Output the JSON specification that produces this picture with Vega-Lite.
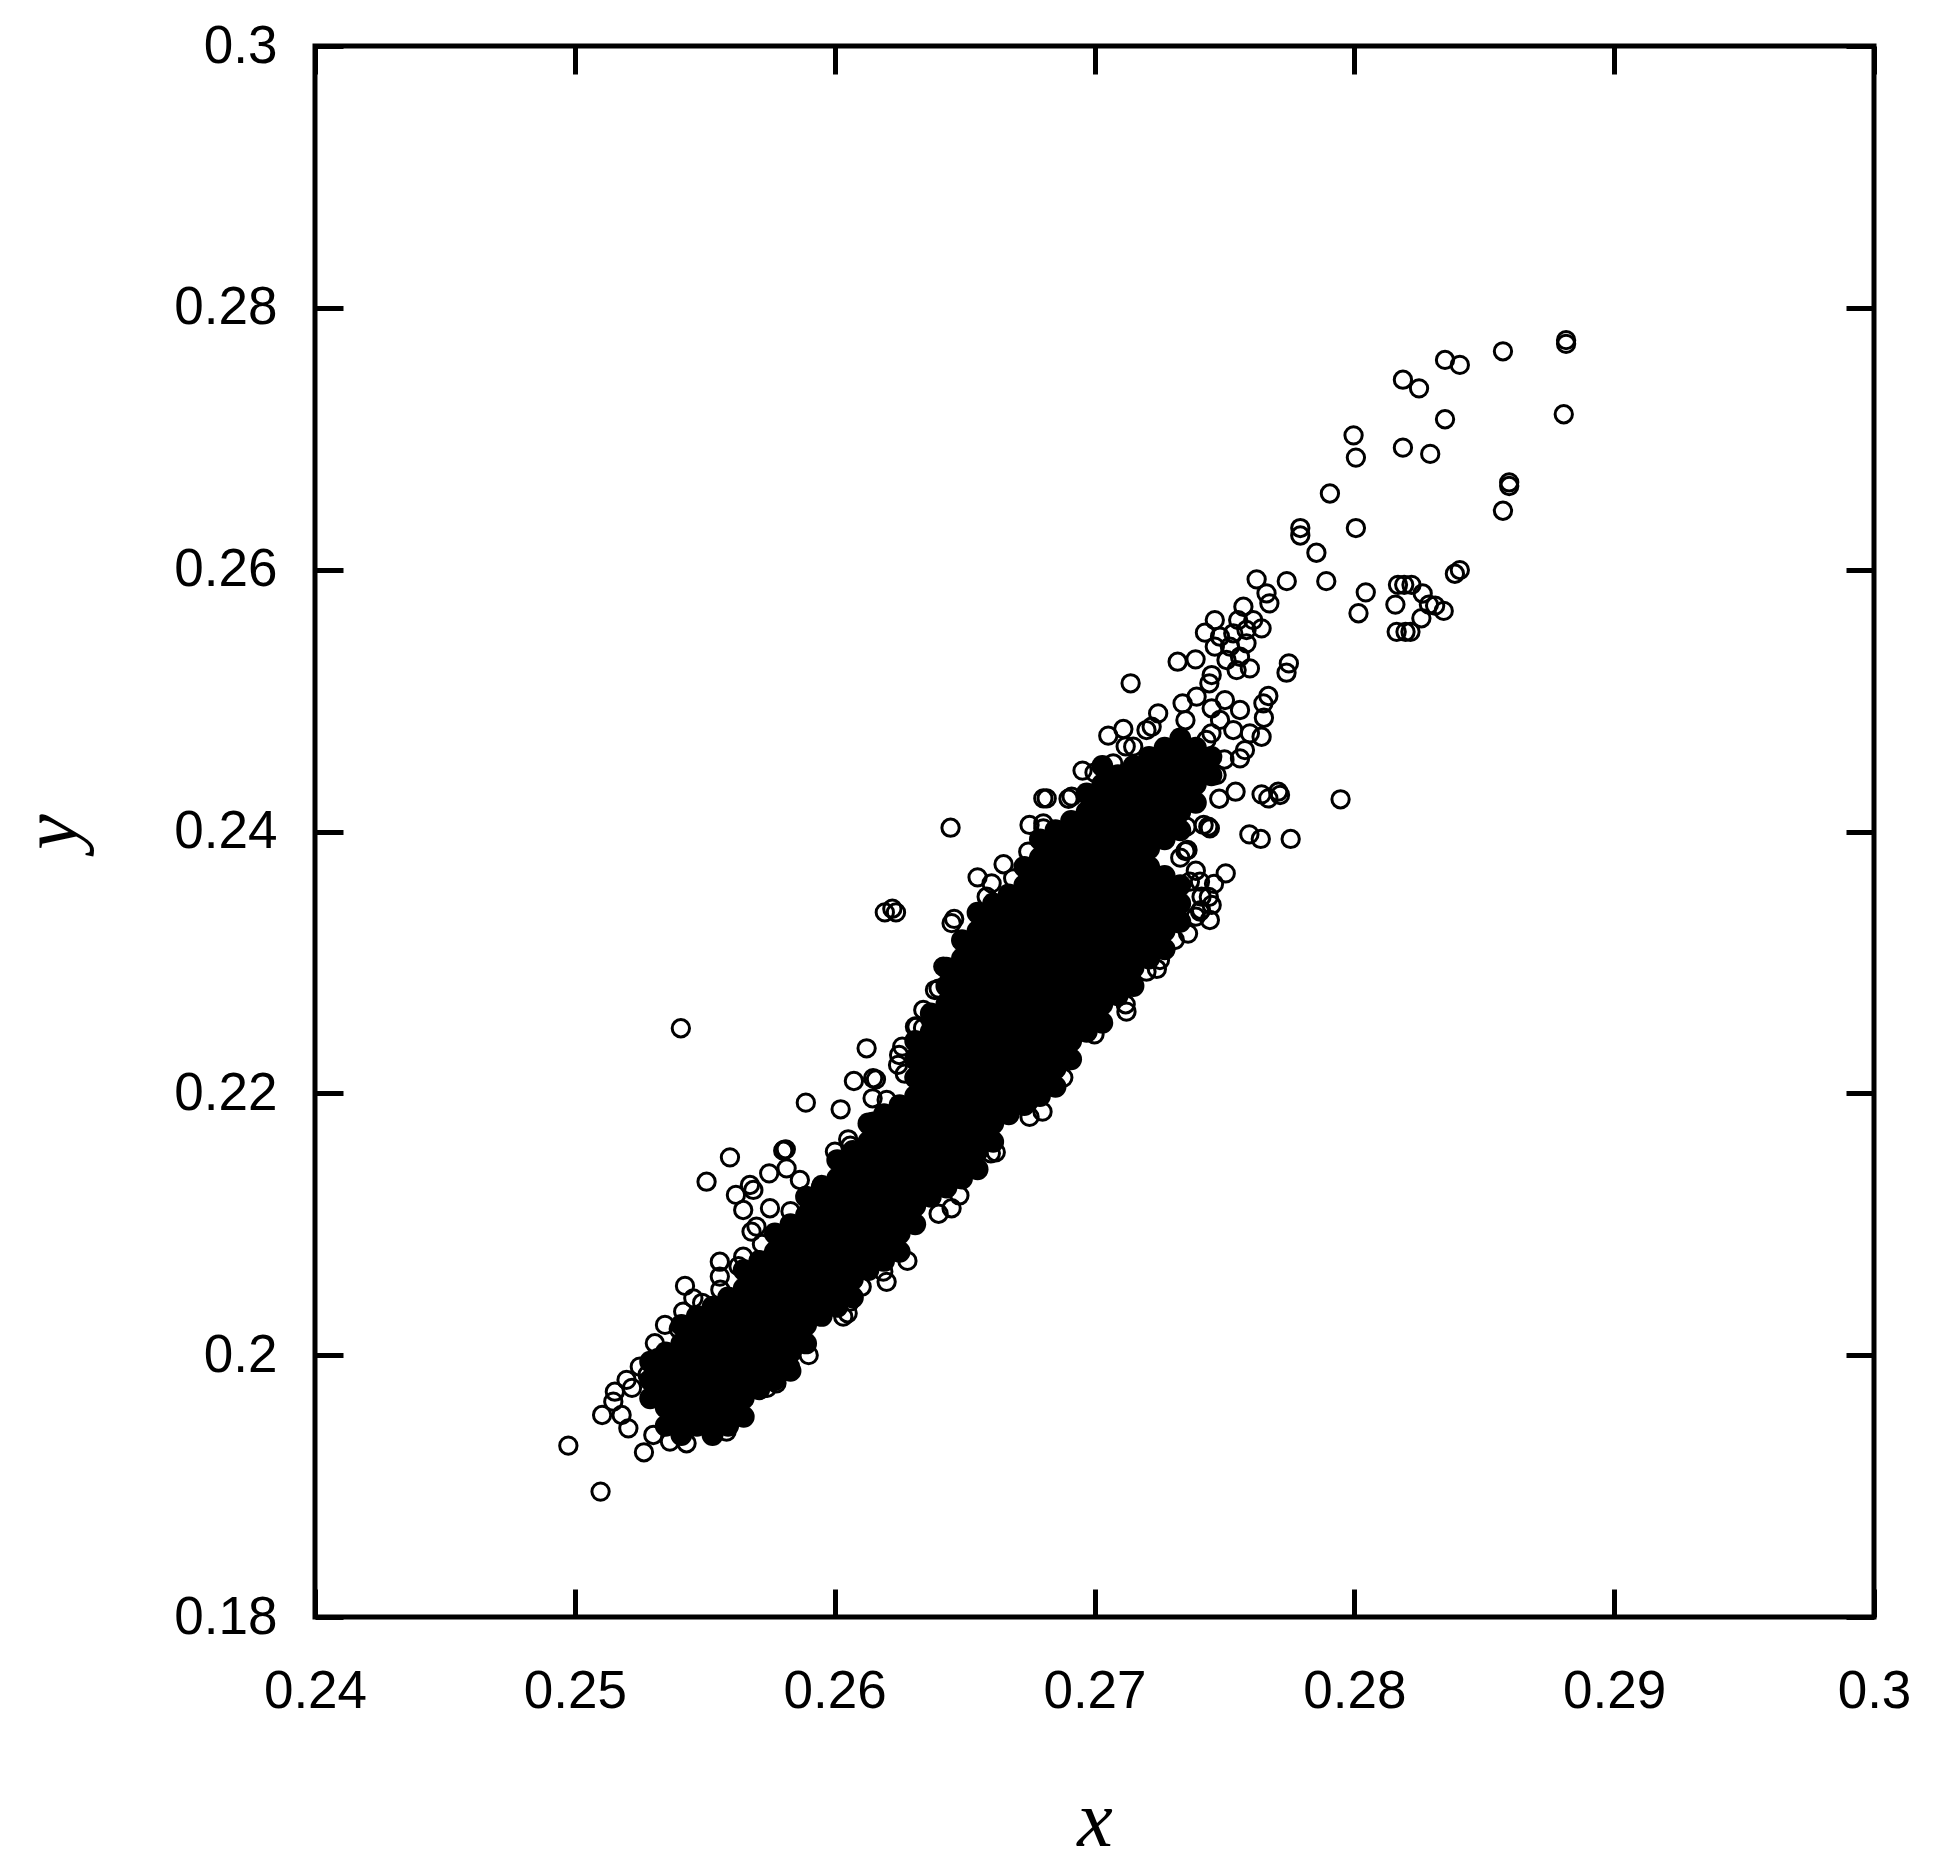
{"$schema":"https://vega.github.io/schema/vega-lite/v6.json","autosize":{"type":"none"},"padding":{"left":315,"top":46,"right":64,"bottom":247},"width":1559,"height":1571,"background":"white","config":{"view":{"stroke":"#000","strokeWidth":5},"axis":{"grid":false,"domain":false,"tickColor":"#000","tickWidth":5,"labelColor":"#000","labelFont":"Liberation Sans","labelFontSize":53,"labelFlush":false,"labelOverlap":false,"titleColor":"#000","titleFont":"Liberation Serif","titleFontStyle":"italic","titleFontWeight":"normal","titleFontSize":80}},"datasets":{"core":[{"x":0.2529,"y":0.1967},{"x":0.2529,"y":0.1981},{"x":0.2529,"y":0.1995},{"x":0.2535,"y":0.1946},{"x":0.2541,"y":0.1939},{"x":0.2553,"y":0.1939},{"x":0.2559,"y":0.1946},{"x":0.2565,"y":0.1953},{"x":0.2577,"y":0.1981},{"x":0.2583,"y":0.1988},{"x":0.2655,"y":0.2142},{"x":0.2661,"y":0.2163},{"x":0.2673,"y":0.2191},{"x":0.2679,"y":0.2198},{"x":0.2685,"y":0.2205},{"x":0.2691,"y":0.2226},{"x":0.2697,"y":0.2247},{"x":0.2703,"y":0.2254},{"x":0.2709,"y":0.2275},{"x":0.2715,"y":0.2282},{"x":0.2721,"y":0.2303},{"x":0.2727,"y":0.231},{"x":0.2679,"y":0.2394},{"x":0.2685,"y":0.2401},{"x":0.2691,"y":0.2408},{"x":0.2697,"y":0.2429},{"x":0.2703,"y":0.245},{"x":0.2733,"y":0.2471},{"x":0.2739,"y":0.2464},{"x":0.2739,"y":0.2422},{"x":0.2745,"y":0.2443},{"x":0.2745,"y":0.2457},{"x":0.2733,"y":0.2331},{"x":0.2733,"y":0.2359},{"x":0.2727,"y":0.2366},{"x":0.2535,"y":0.196},{"x":0.2535,"y":0.1974},{"x":0.2535,"y":0.1988},{"x":0.2535,"y":0.2002},{"x":0.2541,"y":0.1953},{"x":0.2541,"y":0.1967},{"x":0.2541,"y":0.1981},{"x":0.2541,"y":0.1995},{"x":0.2541,"y":0.2009},{"x":0.2541,"y":0.2023},{"x":0.2547,"y":0.1946},{"x":0.2547,"y":0.196},{"x":0.2547,"y":0.1974},{"x":0.2547,"y":0.1988},{"x":0.2547,"y":0.2002},{"x":0.2547,"y":0.2016},{"x":0.2547,"y":0.203},{"x":0.2553,"y":0.1953},{"x":0.2553,"y":0.1967},{"x":0.2553,"y":0.1981},{"x":0.2553,"y":0.1995},{"x":0.2553,"y":0.2009},{"x":0.2553,"y":0.2023},{"x":0.2553,"y":0.2037},{"x":0.2559,"y":0.196},{"x":0.2559,"y":0.1974},{"x":0.2559,"y":0.1988},{"x":0.2559,"y":0.2002},{"x":0.2559,"y":0.2016},{"x":0.2559,"y":0.203},{"x":0.2559,"y":0.2044},{"x":0.2565,"y":0.1967},{"x":0.2565,"y":0.1981},{"x":0.2565,"y":0.1995},{"x":0.2565,"y":0.2009},{"x":0.2565,"y":0.2023},{"x":0.2565,"y":0.2037},{"x":0.2565,"y":0.2051},{"x":0.2565,"y":0.2065},{"x":0.2571,"y":0.1974},{"x":0.2571,"y":0.1988},{"x":0.2571,"y":0.2002},{"x":0.2571,"y":0.2016},{"x":0.2571,"y":0.203},{"x":0.2571,"y":0.2044},{"x":0.2571,"y":0.2058},{"x":0.2571,"y":0.2072},{"x":0.2577,"y":0.1995},{"x":0.2577,"y":0.2009},{"x":0.2577,"y":0.2023},{"x":0.2577,"y":0.2037},{"x":0.2577,"y":0.2051},{"x":0.2577,"y":0.2065},{"x":0.2577,"y":0.2079},{"x":0.2577,"y":0.2093},{"x":0.2583,"y":0.2002},{"x":0.2583,"y":0.2016},{"x":0.2583,"y":0.203},{"x":0.2583,"y":0.2044},{"x":0.2583,"y":0.2058},{"x":0.2583,"y":0.2072},{"x":0.2583,"y":0.2086},{"x":0.2583,"y":0.21},{"x":0.2589,"y":0.2009},{"x":0.2589,"y":0.2023},{"x":0.2589,"y":0.2037},{"x":0.2589,"y":0.2051},{"x":0.2589,"y":0.2065},{"x":0.2589,"y":0.2079},{"x":0.2589,"y":0.2093},{"x":0.2589,"y":0.2107},{"x":0.2589,"y":0.2121},{"x":0.2595,"y":0.203},{"x":0.2595,"y":0.2044},{"x":0.2595,"y":0.2058},{"x":0.2595,"y":0.2072},{"x":0.2595,"y":0.2086},{"x":0.2595,"y":0.21},{"x":0.2595,"y":0.2114},{"x":0.2595,"y":0.2128},{"x":0.2601,"y":0.2037},{"x":0.2601,"y":0.2051},{"x":0.2601,"y":0.2065},{"x":0.2601,"y":0.2079},{"x":0.2601,"y":0.2093},{"x":0.2601,"y":0.2107},{"x":0.2601,"y":0.2121},{"x":0.2601,"y":0.2135},{"x":0.2601,"y":0.2149},{"x":0.2607,"y":0.2044},{"x":0.2607,"y":0.2058},{"x":0.2607,"y":0.2072},{"x":0.2607,"y":0.2086},{"x":0.2607,"y":0.21},{"x":0.2607,"y":0.2114},{"x":0.2607,"y":0.2128},{"x":0.2607,"y":0.2142},{"x":0.2607,"y":0.2156},{"x":0.2613,"y":0.2065},{"x":0.2613,"y":0.2079},{"x":0.2613,"y":0.2093},{"x":0.2613,"y":0.2107},{"x":0.2613,"y":0.2121},{"x":0.2613,"y":0.2135},{"x":0.2613,"y":0.2149},{"x":0.2613,"y":0.2163},{"x":0.2613,"y":0.2177},{"x":0.2619,"y":0.2072},{"x":0.2619,"y":0.2086},{"x":0.2619,"y":0.21},{"x":0.2619,"y":0.2114},{"x":0.2619,"y":0.2128},{"x":0.2619,"y":0.2142},{"x":0.2619,"y":0.2156},{"x":0.2619,"y":0.217},{"x":0.2619,"y":0.2184},{"x":0.2625,"y":0.2079},{"x":0.2625,"y":0.2093},{"x":0.2625,"y":0.2107},{"x":0.2625,"y":0.2121},{"x":0.2625,"y":0.2135},{"x":0.2625,"y":0.2149},{"x":0.2625,"y":0.2163},{"x":0.2625,"y":0.2177},{"x":0.2625,"y":0.2191},{"x":0.2631,"y":0.21},{"x":0.2631,"y":0.2114},{"x":0.2631,"y":0.2128},{"x":0.2631,"y":0.2142},{"x":0.2631,"y":0.2156},{"x":0.2631,"y":0.217},{"x":0.2631,"y":0.2184},{"x":0.2631,"y":0.2198},{"x":0.2631,"y":0.2212},{"x":0.2631,"y":0.2226},{"x":0.2631,"y":0.224},{"x":0.2637,"y":0.2121},{"x":0.2637,"y":0.2135},{"x":0.2637,"y":0.2149},{"x":0.2637,"y":0.2163},{"x":0.2637,"y":0.2177},{"x":0.2637,"y":0.2191},{"x":0.2637,"y":0.2205},{"x":0.2637,"y":0.2219},{"x":0.2637,"y":0.2233},{"x":0.2637,"y":0.2247},{"x":0.2637,"y":0.2261},{"x":0.2643,"y":0.2128},{"x":0.2643,"y":0.2142},{"x":0.2643,"y":0.2156},{"x":0.2643,"y":0.217},{"x":0.2643,"y":0.2184},{"x":0.2643,"y":0.2198},{"x":0.2643,"y":0.2212},{"x":0.2643,"y":0.2226},{"x":0.2643,"y":0.224},{"x":0.2643,"y":0.2254},{"x":0.2643,"y":0.2268},{"x":0.2643,"y":0.2282},{"x":0.2643,"y":0.2296},{"x":0.2649,"y":0.2135},{"x":0.2649,"y":0.2149},{"x":0.2649,"y":0.2163},{"x":0.2649,"y":0.2177},{"x":0.2649,"y":0.2191},{"x":0.2649,"y":0.2205},{"x":0.2649,"y":0.2219},{"x":0.2649,"y":0.2233},{"x":0.2649,"y":0.2247},{"x":0.2649,"y":0.2261},{"x":0.2649,"y":0.2275},{"x":0.2649,"y":0.2289},{"x":0.2649,"y":0.2303},{"x":0.2649,"y":0.2317},{"x":0.2655,"y":0.2156},{"x":0.2655,"y":0.217},{"x":0.2655,"y":0.2184},{"x":0.2655,"y":0.2198},{"x":0.2655,"y":0.2212},{"x":0.2655,"y":0.2226},{"x":0.2655,"y":0.224},{"x":0.2655,"y":0.2254},{"x":0.2655,"y":0.2268},{"x":0.2655,"y":0.2282},{"x":0.2655,"y":0.2296},{"x":0.2655,"y":0.231},{"x":0.2655,"y":0.2324},{"x":0.2655,"y":0.2338},{"x":0.2661,"y":0.2177},{"x":0.2661,"y":0.2191},{"x":0.2661,"y":0.2205},{"x":0.2661,"y":0.2219},{"x":0.2661,"y":0.2233},{"x":0.2661,"y":0.2247},{"x":0.2661,"y":0.2261},{"x":0.2661,"y":0.2275},{"x":0.2661,"y":0.2289},{"x":0.2661,"y":0.2303},{"x":0.2661,"y":0.2317},{"x":0.2661,"y":0.2331},{"x":0.2661,"y":0.2345},{"x":0.2667,"y":0.2184},{"x":0.2667,"y":0.2198},{"x":0.2667,"y":0.2212},{"x":0.2667,"y":0.2226},{"x":0.2667,"y":0.224},{"x":0.2667,"y":0.2254},{"x":0.2667,"y":0.2268},{"x":0.2667,"y":0.2282},{"x":0.2667,"y":0.2296},{"x":0.2667,"y":0.231},{"x":0.2667,"y":0.2324},{"x":0.2667,"y":0.2338},{"x":0.2667,"y":0.2352},{"x":0.2673,"y":0.2205},{"x":0.2673,"y":0.2219},{"x":0.2673,"y":0.2233},{"x":0.2673,"y":0.2247},{"x":0.2673,"y":0.2261},{"x":0.2673,"y":0.2275},{"x":0.2673,"y":0.2289},{"x":0.2673,"y":0.2303},{"x":0.2673,"y":0.2317},{"x":0.2673,"y":0.2331},{"x":0.2673,"y":0.2345},{"x":0.2673,"y":0.2359},{"x":0.2673,"y":0.2373},{"x":0.2679,"y":0.2212},{"x":0.2679,"y":0.2226},{"x":0.2679,"y":0.224},{"x":0.2679,"y":0.2254},{"x":0.2679,"y":0.2268},{"x":0.2679,"y":0.2282},{"x":0.2679,"y":0.2296},{"x":0.2679,"y":0.231},{"x":0.2679,"y":0.2324},{"x":0.2679,"y":0.2338},{"x":0.2679,"y":0.2352},{"x":0.2679,"y":0.2366},{"x":0.2679,"y":0.238},{"x":0.2685,"y":0.2219},{"x":0.2685,"y":0.2233},{"x":0.2685,"y":0.2247},{"x":0.2685,"y":0.2261},{"x":0.2685,"y":0.2275},{"x":0.2685,"y":0.2289},{"x":0.2685,"y":0.2303},{"x":0.2685,"y":0.2317},{"x":0.2685,"y":0.2331},{"x":0.2685,"y":0.2345},{"x":0.2685,"y":0.2359},{"x":0.2685,"y":0.2373},{"x":0.2685,"y":0.2387},{"x":0.2691,"y":0.224},{"x":0.2691,"y":0.2254},{"x":0.2691,"y":0.2268},{"x":0.2691,"y":0.2282},{"x":0.2691,"y":0.2296},{"x":0.2691,"y":0.231},{"x":0.2691,"y":0.2324},{"x":0.2691,"y":0.2338},{"x":0.2691,"y":0.2352},{"x":0.2691,"y":0.2366},{"x":0.2691,"y":0.238},{"x":0.2691,"y":0.2394},{"x":0.2697,"y":0.2261},{"x":0.2697,"y":0.2275},{"x":0.2697,"y":0.2289},{"x":0.2697,"y":0.2303},{"x":0.2697,"y":0.2317},{"x":0.2697,"y":0.2331},{"x":0.2697,"y":0.2345},{"x":0.2697,"y":0.2359},{"x":0.2697,"y":0.2373},{"x":0.2697,"y":0.2387},{"x":0.2697,"y":0.2401},{"x":0.2697,"y":0.2415},{"x":0.2703,"y":0.2268},{"x":0.2703,"y":0.2282},{"x":0.2703,"y":0.2296},{"x":0.2703,"y":0.231},{"x":0.2703,"y":0.2324},{"x":0.2703,"y":0.2338},{"x":0.2703,"y":0.2352},{"x":0.2703,"y":0.2366},{"x":0.2703,"y":0.238},{"x":0.2703,"y":0.2394},{"x":0.2703,"y":0.2408},{"x":0.2703,"y":0.2422},{"x":0.2703,"y":0.2436},{"x":0.2709,"y":0.2289},{"x":0.2709,"y":0.2303},{"x":0.2709,"y":0.2317},{"x":0.2709,"y":0.2331},{"x":0.2709,"y":0.2345},{"x":0.2709,"y":0.2359},{"x":0.2709,"y":0.2373},{"x":0.2709,"y":0.2387},{"x":0.2709,"y":0.2401},{"x":0.2709,"y":0.2415},{"x":0.2709,"y":0.2429},{"x":0.2709,"y":0.2443},{"x":0.2715,"y":0.2296},{"x":0.2715,"y":0.231},{"x":0.2715,"y":0.2324},{"x":0.2715,"y":0.2338},{"x":0.2715,"y":0.2352},{"x":0.2715,"y":0.2366},{"x":0.2715,"y":0.238},{"x":0.2715,"y":0.2394},{"x":0.2715,"y":0.2408},{"x":0.2715,"y":0.2422},{"x":0.2715,"y":0.2436},{"x":0.2715,"y":0.245},{"x":0.2721,"y":0.2317},{"x":0.2721,"y":0.2331},{"x":0.2721,"y":0.2345},{"x":0.2721,"y":0.2359},{"x":0.2721,"y":0.2373},{"x":0.2721,"y":0.2387},{"x":0.2721,"y":0.2401},{"x":0.2721,"y":0.2415},{"x":0.2721,"y":0.2429},{"x":0.2721,"y":0.2443},{"x":0.2721,"y":0.2457},{"x":0.2727,"y":0.2324},{"x":0.2727,"y":0.2338},{"x":0.2727,"y":0.2352},{"x":0.2727,"y":0.2394},{"x":0.2727,"y":0.2408},{"x":0.2727,"y":0.2422},{"x":0.2727,"y":0.2436},{"x":0.2727,"y":0.245},{"x":0.2727,"y":0.2464},{"x":0.2733,"y":0.2345},{"x":0.2733,"y":0.2401},{"x":0.2733,"y":0.2415},{"x":0.2733,"y":0.2429},{"x":0.2733,"y":0.2443},{"x":0.2733,"y":0.2457},{"x":0.2739,"y":0.2436},{"x":0.2739,"y":0.245}],"open":[{"x":0.2574,"y":0.1975},{"x":0.259,"y":0.2},{"x":0.2605,"y":0.2032},{"x":0.262,"y":0.2056},{"x":0.2628,"y":0.2072},{"x":0.264,"y":0.2108},{"x":0.2648,"y":0.2122},{"x":0.2662,"y":0.2155},{"x":0.2675,"y":0.2182},{"x":0.2688,"y":0.2212},{"x":0.27,"y":0.2245},{"x":0.2712,"y":0.2268},{"x":0.2724,"y":0.2295},{"x":0.2736,"y":0.2322},{"x":0.2741,"y":0.234},{"x":0.2746,"y":0.236},{"x":0.2645,"y":0.233},{"x":0.2655,"y":0.2365},{"x":0.2665,"y":0.2375},{"x":0.2675,"y":0.2405},{"x":0.269,"y":0.2425},{"x":0.27,"y":0.2445},{"x":0.2712,"y":0.2465},{"x":0.2722,"y":0.248},{"x":0.2735,"y":0.2485},{"x":0.2745,"y":0.2475},{"x":0.275,"y":0.2455},{"x":0.2748,"y":0.2425},{"x":0.2742,"y":0.2405},{"x":0.2735,"y":0.2385},{"x":0.2733,"y":0.238},{"x":0.2739,"y":0.237},{"x":0.2744,"y":0.235},{"x":0.2739,"y":0.2335},{"x":0.2528,"y":0.1985},{"x":0.2522,"y":0.1975},{"x":0.2532,"y":0.1998},{"x":0.254,"y":0.202},{"x":0.2549,"y":0.204},{"x":0.2556,"y":0.205},{"x":0.2563,"y":0.2068},{"x":0.2572,"y":0.2085},{"x":0.2583,"y":0.211},{"x":0.2595,"y":0.213},{"x":0.2606,"y":0.216},{"x":0.262,"y":0.2195},{"x":0.2627,"y":0.2215},{"x":0.2634,"y":0.225},{"x":0.264,"y":0.228},{"x":0.28815,"y":0.27753},{"x":0.28815,"y":0.27725},{"x":0.28806,"y":0.27187},{"x":0.28572,"y":0.27668},{"x":0.28406,"y":0.27564},{"x":0.28349,"y":0.27602},{"x":0.28249,"y":0.27385},{"x":0.28187,"y":0.27451},{"x":0.28349,"y":0.27149},{"x":0.28187,"y":0.26932},{"x":0.28292,"y":0.26884},{"x":0.27997,"y":0.27026},{"x":0.28006,"y":0.26856},{"x":0.28596,"y":0.26667},{"x":0.28596,"y":0.26639},{"x":0.28572,"y":0.2645},{"x":0.27906,"y":0.26582},{"x":0.28006,"y":0.26318},{"x":0.27792,"y":0.26318},{"x":0.27792,"y":0.26261},{"x":0.27854,"y":0.26129},{"x":0.27892,"y":0.25912},{"x":0.2774,"y":0.25912},{"x":0.28044,"y":0.25827},{"x":0.28016,"y":0.25667},{"x":0.28158,"y":0.25733},{"x":0.28168,"y":0.25884},{"x":0.28192,"y":0.25884},{"x":0.2822,"y":0.25884},{"x":0.28163,"y":0.25525},{"x":0.28197,"y":0.25525},{"x":0.28216,"y":0.25525},{"x":0.28263,"y":0.25818},{"x":0.28258,"y":0.25629},{"x":0.28287,"y":0.25733},{"x":0.28311,"y":0.25725},{"x":0.28344,"y":0.25685},{"x":0.28387,"y":0.25969},{"x":0.28406,"y":0.25997},{"x":0.27624,"y":0.25926},{"x":0.27662,"y":0.25819},{"x":0.27673,"y":0.25743},{"x":0.27573,"y":0.25717},{"x":0.27463,"y":0.25615},{"x":0.27425,"y":0.25519},{"x":0.27553,"y":0.25615},{"x":0.27611,"y":0.25615},{"x":0.27643,"y":0.25552},{"x":0.27483,"y":0.25488},{"x":0.27534,"y":0.25514},{"x":0.27585,"y":0.25539},{"x":0.27463,"y":0.25412},{"x":0.27521,"y":0.25412},{"x":0.27585,"y":0.25437},{"x":0.27547,"y":0.25233},{"x":0.27598,"y":0.25246},{"x":0.27508,"y":0.2531},{"x":0.2756,"y":0.25335},{"x":0.2732,"y":0.25297},{"x":0.27389,"y":0.25315},{"x":0.27139,"y":0.25132},{"x":0.27748,"y":0.25284},{"x":0.27739,"y":0.25213},{"x":0.27451,"y":0.25195},{"x":0.27442,"y":0.25132},{"x":0.27339,"y":0.24979},{"x":0.27393,"y":0.2503},{"x":0.27451,"y":0.24941},{"x":0.27502,"y":0.25004},{"x":0.2756,"y":0.24928},{"x":0.27669,"y":0.25035},{"x":0.2765,"y":0.24979},{"x":0.27652,"y":0.24869},{"x":0.27643,"y":0.24724},{"x":0.2756,"y":0.24559},{"x":0.27579,"y":0.24622},{"x":0.27245,"y":0.24902},{"x":0.27111,"y":0.24783},{"x":0.27053,"y":0.24732},{"x":0.272,"y":0.24775},{"x":0.27149,"y":0.24648},{"x":0.27483,"y":0.24852},{"x":0.27534,"y":0.24775},{"x":0.27598,"y":0.2475},{"x":0.27431,"y":0.24699},{"x":0.26954,"y":0.24465},{"x":0.27046,"y":0.24419},{"x":0.27072,"y":0.24521},{"x":0.2747,"y":0.24431},{"x":0.27543,"y":0.24304},{"x":0.27643,"y":0.24284},{"x":0.27669,"y":0.24253},{"x":0.27707,"y":0.24304},{"x":0.27714,"y":0.24279},{"x":0.27947,"y":0.24246},{"x":0.27596,"y":0.23978},{"x":0.2764,"y":0.23943},{"x":0.27755,"y":0.23943},{"x":0.27444,"y":0.24024},{"x":0.27438,"y":0.24037},{"x":0.27358,"y":0.23859},{"x":0.27354,"y":0.24037},{"x":0.27505,"y":0.2368},{"x":0.27367,"y":0.23617},{"x":0.27406,"y":0.23617},{"x":0.26803,"y":0.24253},{"x":0.26816,"y":0.24253},{"x":0.26912,"y":0.24266},{"x":0.26803,"y":0.24062},{"x":0.26803,"y":0.24024},{"x":0.26446,"y":0.24029},{"x":0.26745,"y":0.23846},{"x":0.26687,"y":0.23642},{"x":0.26604,"y":0.23604},{"x":0.26585,"y":0.23502},{"x":0.2646,"y":0.23332},{"x":0.27444,"y":0.23324},{"x":0.27406,"y":0.23388},{"x":0.27451,"y":0.23439},{"x":0.27412,"y":0.23502},{"x":0.27309,"y":0.23171},{"x":0.27252,"y":0.23018},{"x":0.272,"y":0.22929},{"x":0.26418,"y":0.22968},{"x":0.26386,"y":0.22789},{"x":0.26341,"y":0.22637},{"x":0.26309,"y":0.22509},{"x":0.27123,"y":0.22624},{"x":0.26193,"y":0.23382},{"x":0.26222,"y":0.2341},{"x":0.26236,"y":0.23382},{"x":0.25408,"y":0.22497},{"x":0.26123,"y":0.22344},{"x":0.2626,"y":0.22357},{"x":0.26248,"y":0.22293},{"x":0.26244,"y":0.22217},{"x":0.26315,"y":0.22509},{"x":0.26074,"y":0.22094},{"x":0.26148,"y":0.22115},{"x":0.26159,"y":0.22107},{"x":0.26146,"y":0.21962},{"x":0.25889,"y":0.21929},{"x":0.26023,"y":0.21878},{"x":0.26148,"y":0.21784},{"x":0.26052,"y":0.21649},{"x":0.26001,"y":0.21555},{"x":0.25805,"y":0.21567},{"x":0.25802,"y":0.21562},{"x":0.25812,"y":0.21572},{"x":0.25815,"y":0.21427},{"x":0.25597,"y":0.21511},{"x":0.25507,"y":0.21325},{"x":0.25748,"y":0.21389},{"x":0.25674,"y":0.213},{"x":0.25687,"y":0.21262},{"x":0.2562,"y":0.21224},{"x":0.25751,"y":0.21122},{"x":0.25648,"y":0.21109},{"x":0.25866,"y":0.21338},{"x":0.2568,"y":0.20944},{"x":0.25699,"y":0.20982},{"x":0.25648,"y":0.20752},{"x":0.25558,"y":0.20714},{"x":0.25558,"y":0.206},{"x":0.25424,"y":0.20529},{"x":0.25456,"y":0.20434},{"x":0.25417,"y":0.20333},{"x":0.25347,"y":0.20231},{"x":0.25308,"y":0.20091},{"x":0.2525,"y":0.19912},{"x":0.25199,"y":0.19811},{"x":0.25154,"y":0.19721},{"x":0.25148,"y":0.19645},{"x":0.25105,"y":0.19543},{"x":0.2518,"y":0.19543},{"x":0.25206,"y":0.19441},{"x":0.24975,"y":0.19309},{"x":0.25266,"y":0.19258},{"x":0.25099,"y":0.18958},{"x":0.26601,"y":0.21542},{"x":0.268,"y":0.2186},{"x":0.26187,"y":0.20638},{"x":0.26033,"y":0.20294},{"x":0.2645,"y":0.21122},{"x":0.25584,"y":0.19416},{"x":0.2543,"y":0.19327},{"x":0.25366,"y":0.1934},{"x":0.25302,"y":0.1939},{"x":0.26059,"y":0.20409},{"x":0.26104,"y":0.20523},{"x":0.25828,"y":0.19912},{"x":0.25776,"y":0.19785}]},"layer":[{"data":{"name":"core"},"mark":{"type":"point","shape":"circle","filled":true,"color":"#000","size":480,"opacity":1,"strokeWidth":0},"encoding":{"x":{"field":"x","type":"quantitative","scale":{"domain":[0.24,0.3],"nice":false,"zero":false},"axis":{"orient":"bottom","title":"x","values":[0.24,0.25,0.26,0.27,0.28,0.29,0.3],"format":".2~f","tickSize":-28,"labelPadding":76,"titlePadding":64}},"y":{"field":"y","type":"quantitative","scale":{"domain":[0.18,0.3],"nice":false,"zero":false},"axis":{"orient":"left","title":"y","values":[0.18,0.2,0.22,0.24,0.26,0.28,0.3],"format":".2~f","tickSize":-28,"labelPadding":66,"titlePadding":80}}}},{"data":{"name":"open"},"mark":{"type":"point","shape":"circle","filled":false,"color":"#000","size":300,"opacity":1,"strokeWidth":3},"encoding":{"x":{"field":"x","type":"quantitative","scale":{"domain":[0.24,0.3],"nice":false,"zero":false},"axis":{"orient":"top","title":null,"values":[0.24,0.25,0.26,0.27,0.28,0.29,0.3],"labels":false,"tickSize":-28}},"y":{"field":"y","type":"quantitative","scale":{"domain":[0.18,0.3],"nice":false,"zero":false},"axis":{"orient":"right","title":null,"values":[0.18,0.2,0.22,0.24,0.26,0.28,0.3],"labels":false,"tickSize":-28}}}}],"resolve":{"axis":{"x":"independent","y":"independent"}}}
